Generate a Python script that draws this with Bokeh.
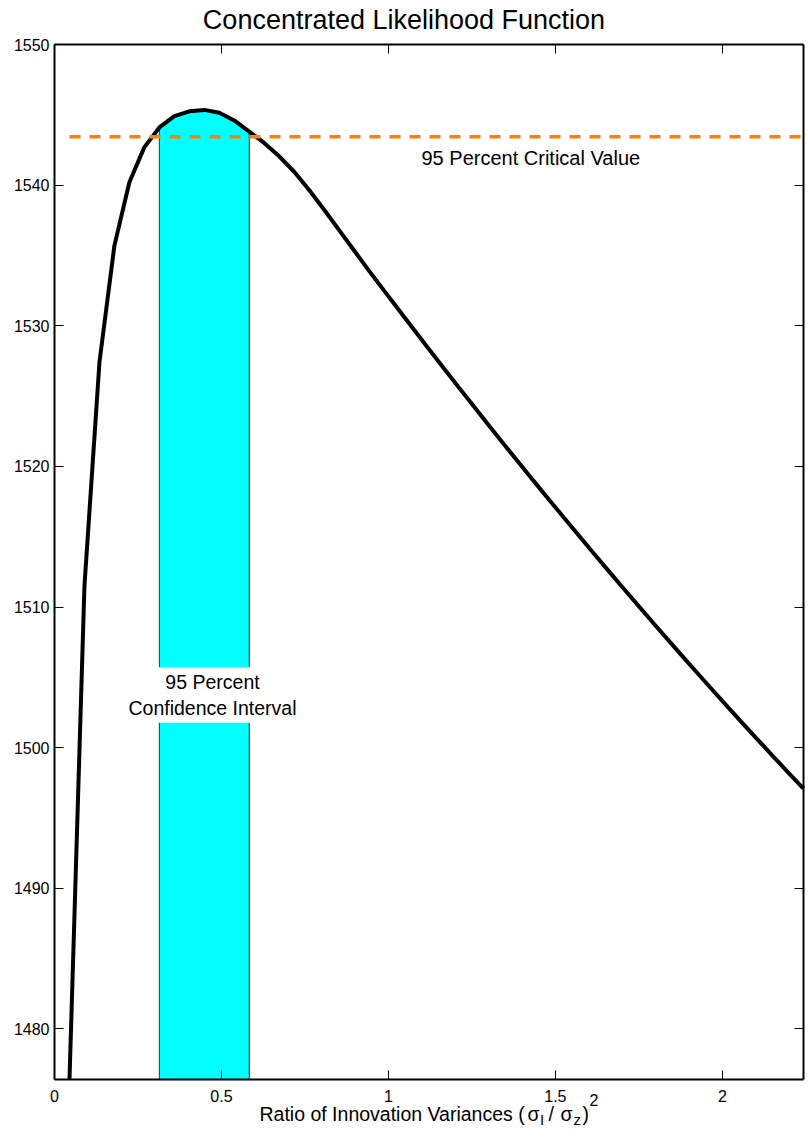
from bokeh.plotting import figure
from bokeh.models import Range1d, LinearAxis, FixedTicker, Label
from bokeh.embed import file_html
from bokeh.resources import INLINE

# ---------------- data ----------------
ratio = [0.0449, 0.0897, 0.1346, 0.1794, 0.2243, 0.2692, 0.3140, 0.3589, 0.4037, 0.4486,
         0.4935, 0.5383, 0.5832, 0.6280, 0.6729, 0.7178, 0.7626, 0.8075, 0.8523, 0.8972,
         0.9421, 0.9869, 1.0318, 1.0766, 1.1215, 1.1664, 1.2112, 1.2561, 1.3009, 1.3458,
         1.3907, 1.4355, 1.4804, 1.5252, 1.5701, 1.6150, 1.6598, 1.7047, 1.7495, 1.7944,
         1.8393, 1.8841, 1.9290, 1.9738, 2.0187, 2.0636, 2.1084, 2.1533, 2.1981, 2.2430]
loglik = [1476.4, 1511.5, 1527.4, 1535.7, 1540.2, 1542.7, 1544.1, 1544.9, 1545.25, 1545.35,
          1545.15, 1544.6, 1543.8, 1543.0, 1542.05, 1540.95, 1539.65, 1538.25, 1536.8, 1535.35,
          1533.9, 1532.5, 1531.1, 1529.71, 1528.33, 1526.96, 1525.6, 1524.25, 1522.91, 1521.58,
          1520.26, 1518.95, 1517.65, 1516.36, 1515.08, 1513.81, 1512.55, 1511.3, 1510.06, 1508.83,
          1507.61, 1506.4, 1505.2, 1504.01, 1502.83, 1501.66, 1500.5, 1499.35, 1498.21, 1497.08]
critical_value = 1543.44
ci_first, ci_last = 6, 12          # indices of the 95% interval ends in `ratio`

x_ticks = [0, 0.5, 1, 1.5, 2]
x_tick_labels = ["0", "0.5", "1", "1.5", "2"]
y_ticks = [1480, 1490, 1500, 1510, 1520, 1530, 1540, 1550]
y_tick_labels = ["1480", "1490", "1500", "1510", "1520", "1530", "1540", "1550"]
y_top = 1550

title_text = "Concentrated Likelihood Function"
crit_text = "95 Percent Critical Value"
ci_text = "95 Percent\nConfidence Interval"

FONT = "Liberation Sans"

# ---------------- layout constants (page pixels) ----------------
W, H = 807, 1140
ML, MR = 54, 4              # left/right edges of the drawn axes box
AX_TOP = 44                 # top edge of the drawn axes box
MT = 34                     # title panel height; frame starts here
FW_AX = W - ML - MR         # width of the drawn axes box
FH_AX = 1035                # height of the drawn axes box
FH = H - MT                 # plotting frame covers the rest of the canvas

x_lo, x_hi = 0, ratio[-1]
y_lo, y_hi = min(loglik), y_top
x_per_px = (x_hi - x_lo) / FW_AX
y_per_px = (y_hi - y_lo) / FH_AX
gap_top = AX_TOP - MT

p = figure(width=W, height=H, output_backend="svg", toolbar_location=None,
           x_range=Range1d(x_lo - ML * x_per_px, x_hi + MR * x_per_px),
           y_range=Range1d(y_lo - (FH - FH_AX - gap_top) * y_per_px, y_hi + gap_top * y_per_px),
           x_axis_location=None, y_axis_location=None,
           min_border_left=0, min_border_right=0, min_border_top=MT, min_border_bottom=0,
           background_fill_color="white", border_fill_color="white")
p.grid.visible = False
p.outline_line_color = None

p.title.text = title_text
p.title.align = "center"
p.title.text_font = FONT
p.title.text_font_size = "27px"
p.title.text_font_style = "normal"
p.title.text_color = "black"
p.title.standoff = 0
p.title.offset = (ML - MR) / 2


def page_x(px):
    return x_lo + (px - ML) * x_per_px


def page_y(py):
    return y_hi - (py - AX_TOP) * y_per_px


def style_axis(ax, show_labels):
    ax.axis_line_color = "black"
    ax.axis_line_width = 2
    ax.major_tick_in = 9
    ax.major_tick_out = 0
    ax.minor_tick_in = 0
    ax.minor_tick_out = 0
    ax.major_tick_line_color = "black"
    ax.major_tick_line_width = 1
    ax.major_label_text_font = FONT
    ax.major_label_text_font_size = "16px"
    ax.major_label_text_color = "black" if show_labels else None


xa = LinearAxis(ticker=FixedTicker(ticks=x_ticks), fixed_location=y_lo, bounds=(x_lo, x_hi),
                major_label_overrides={t: s for t, s in zip(x_ticks, x_tick_labels)},
                major_label_standoff=10)
style_axis(xa, True)
p.add_layout(xa, "below")

ya = LinearAxis(ticker=FixedTicker(ticks=y_ticks), fixed_location=x_lo, bounds=(y_lo, y_hi),
                major_label_overrides={t: s for t, s in zip(y_ticks, y_tick_labels)},
                major_label_standoff=5)
style_axis(ya, True)
p.add_layout(ya, "left")

top_ax = LinearAxis(ticker=FixedTicker(ticks=x_ticks), fixed_location=y_hi, bounds=(x_lo, x_hi))
style_axis(top_ax, False)
p.add_layout(top_ax, "above")
right_ax = LinearAxis(ticker=FixedTicker(ticks=y_ticks), fixed_location=x_hi,
                      bounds=(y_lo, y_hi))
style_axis(right_ax, False)
p.add_layout(right_ax, "right")

# confidence-interval band (area under the curve between interval ends)
band_x = [ratio[ci_first]] + ratio[ci_first:ci_last + 1] + [ratio[ci_last]]
band_y = [y_lo] + loglik[ci_first:ci_last + 1] + [y_lo]
p.patch(band_x, band_y, fill_color="#00ffff", line_color="#333333", line_width=1)

# likelihood curve
p.line(ratio, loglik, line_color="black", line_width=4)

# critical value
p.line([ratio[0], ratio[-1]], [critical_value, critical_value],
       line_color="#ff8000", line_width=3.3, line_dash="11 9")

# annotations
p.add_layout(Label(x=page_x(421), y=page_y(157), text=crit_text,
                   text_font=FONT, text_font_size="20px", text_color="black",
                   text_align="left", text_baseline="alphabetic"))
p.add_layout(Label(x=page_x(212), y=page_y(694.5), text=ci_text,
                   text_font=FONT, text_font_size="19.5px", text_color="black",
                   text_align="center", text_baseline="middle", text_line_height=1.15,
                   background_fill_color="white", padding=4))

# x-axis label built from pieces (sub/superscripts)
xlabel_parts = [
    ("Ratio of Innovation Variances (", 259, 1113, "19.5px"),
    ("\u03c3", 527, 1113, "19.5px"),
    ("I", 539.5, 1119, "15px"),
    ("/", 548, 1113, "19.5px"),
    ("\u03c3", 560, 1113, "19.5px"),
    ("z", 573, 1119, "15px"),
    (")", 582, 1113, "19.5px"),
    ("2", 589, 1099, "16px"),
]
for txt, px, py, fs in xlabel_parts:
    p.add_layout(Label(x=page_x(px), y=page_y(py), text=txt, text_font=FONT,
                       text_font_size=fs, text_color="black",
                       text_align="left", text_baseline="alphabetic"))

open("out.html", "w").write(file_html(p, INLINE))
